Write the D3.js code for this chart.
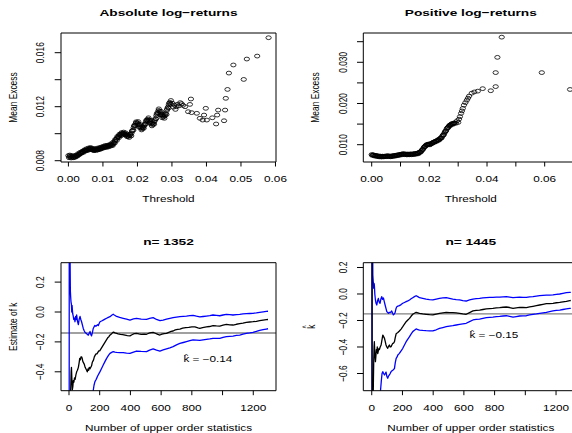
<!DOCTYPE html>
<html><head><meta charset="utf-8">
<script src="https://cdn.jsdelivr.net/npm/d3@7"></script>
<style>html,body{margin:0;padding:0;background:#fff;} svg{display:block;}</style>
</head><body>
<svg id="c" width="572" height="433"></svg>
<script>
// ---------------- DATA ----------------
// Top-left: Absolute log-returns, mean excess [threshold, mean excess]
const absMeanExcess = [
[0.0000,.00838],[0.0003,.00830],[0.0006,.00834],[0.0009,.00826],[0.0012,.00830],[0.0015,.00824],[0.0018,.00828],[0.0021,.00832],
[0.0024,.00836],[0.0027,.00842],[0.0030,.00846],[0.0033,.00852],[0.0036,.00856],[0.0039,.00862],[0.0042,.00866],[0.0045,.00872],
[0.0048,.00876],[0.0051,.00880],[0.0054,.00878],[0.0057,.00884],[0.0060,.00888],[0.0063,.00892],[0.0066,.00888],[0.0069,.00884],
[0.0072,.00880],[0.0075,.00878],[0.0078,.00882],[0.0081,.00884],[0.0084,.00880],[0.0087,.00886],[0.0090,.00890],[0.0093,.00888],
[0.0096,.00894],[0.0099,.00898],[0.0102,.00900],[0.0105,.00904],[0.0108,.00902],[0.0111,.00906],[0.0114,.00910],[0.0117,.00908],
[0.0120,.00914],[0.0123,.00918],[0.0126,.00916],[0.0129,.00924],[0.0132,.00932],[0.0135,.00946],[0.0138,.00958],[0.0141,.00968],
[0.0144,.00976],[0.0147,.00986],[0.0150,.00992],[0.0153,.00998],[0.0156,.01002],[0.0159,.01004],[0.0162,.01000],[0.0165,.00996],
[0.0168,.00990],[0.0171,.00984],[0.0174,.00980],[0.0177,.00986],[0.0180,.00994],[0.0183,.01006],[0.0186,.01024],[0.0189,.01044],
[0.0192,.01062],[0.0195,.01076],[0.0198,.01082],[0.0201,.01078],[0.0204,.01066],[0.0207,.01054],[0.0210,.01044],[0.0213,.01036],
[0.0216,.01044],[0.0219,.01058],[0.0222,.01074],[0.0225,.01090],[0.0228,.01102],[0.0231,.01108],[0.0234,.01100],[0.0237,.01088],
[0.0240,.01076],[0.0243,.01068],[0.0246,.01072],[0.0249,.01090],[0.0252,.01112],[0.0255,.01134],[0.0258,.01156],[0.0261,.01172],
[0.0264,.01168],[0.0267,.01154],[0.0270,.01140],[0.0273,.01130],[0.0276,.01126],[0.0279,.01132],[0.0282,.01150],[0.0285,.01172],
[0.0288,.01196],[0.0291,.01214],[0.0294,.01232],[0.0297,.01246],
[0.0002,.00822],[0.0008,.00820],[0.0014,.00822],[0.0020,.00826],[0.0026,.00834],[0.0032,.00846],[0.0038,.00856],[0.0044,.00862],
[0.0050,.00872],[0.0056,.00876],[0.0062,.00882],[0.0068,.00880],[0.0074,.00874],[0.0080,.00876],[0.0086,.00880],[0.0092,.00884],
[0.0098,.00890],[0.0104,.00896],[0.0110,.00898],[0.0116,.00902],[0.0122,.00908],[0.0128,.00912],[0.0134,.00930],[0.0140,.00950],
[0.0146,.00970],[0.0152,.00984],[0.0158,.00994],[0.0164,.00990],[0.0170,.00978],[0.0176,.00972],[0.0182,.00984],[0.0188,.01026],
[0.0194,.01060],[0.0200,.01068],[0.0206,.01046],[0.0212,.01028],[0.0218,.01040],[0.0224,.01070],[0.0230,.01094],[0.0236,.01078],
[0.0242,.01058],[0.0248,.01070],[0.0254,.01110],[0.0260,.01150],[0.0266,.01140],[0.0272,.01118],[0.0278,.01114],[0.0284,.01142],
[0.0290,.01190],[0.0296,.01220],
[0.0004,.00842],[0.0010,.00838],[0.0016,.00836],[0.0022,.00842],[0.0028,.00852],[0.0034,.00862],[0.0040,.00870],[0.0046,.00880],
[0.0052,.00888],[0.0058,.00894],[0.0064,.00898],[0.0070,.00892],[0.0076,.00888],[0.0082,.00892],[0.0088,.00896],[0.0094,.00900],
[0.0100,.00906],[0.0106,.00912],[0.0112,.00914],[0.0118,.00918],[0.0124,.00926],[0.0130,.00938],[0.0136,.00958],[0.0142,.00980],
[0.0148,.00996],[0.0154,.01008],[0.0160,.01012],[0.0166,.01006],[0.0172,.00994],[0.0178,.00996],[0.0184,.01020],[0.0190,.01058],
[0.0196,.01088],[0.0202,.01090],[0.0208,.01068],[0.0214,.01050],[0.0220,.01068],[0.0226,.01100],[0.0232,.01118],[0.0238,.01100],
[0.0244,.01080],[0.0250,.01100],[0.0256,.01146],[0.0262,.01184],[0.0268,.01166],[0.0274,.01142],[0.0280,.01142],[0.0286,.01182],
[0.0292,.01226],
[0.0301,.01226],[0.0304,.01196],[0.0307,.01212],[0.0310,.01180],[0.0313,.01200],[0.0316,.01218],[0.0320,.01206],[0.0324,.01230],
[0.0328,.01222],[0.0332,.01210],
[0.0338,.01200],[0.0347,.01163],[0.0352,.01217],[0.0355,.01257],[0.0357,.01156],[0.0372,.01151],[0.0381,.01114],[0.0389,.01101],
[0.0393,.01138],[0.0398,.01188],[0.0401,.01101],[0.0417,.01118],[0.0428,.01072],[0.0431,.01138],[0.0434,.01175],[0.0451,.01096],
[0.0454,.01175],[0.0456,.01262],[0.0461,.01328],[0.0465,.01449],[0.0478,.01509],[0.0508,.01402],[0.0517,.01553],[0.0547,.01575],
[0.0580,.01711]
];

// Top-right: Positive log-returns, mean excess
const posMeanExcess = [
[0.0000,.00760],[0.0004,.00752],[0.0008,.00744],[0.0012,.00738],[0.0016,.00730],[0.0020,.00724],[0.0024,.00720],[0.0028,.00716],
[0.0032,.00712],[0.0036,.00714],[0.0040,.00716],[0.0044,.00712],[0.0048,.00718],[0.0052,.00722],[0.0056,.00726],[0.0060,.00720],
[0.0064,.00716],[0.0068,.00720],[0.0072,.00726],[0.0076,.00730],[0.0080,.00734],[0.0084,.00740],[0.0088,.00746],[0.0092,.00750],
[0.0096,.00756],[0.0100,.00762],[0.0104,.00770],[0.0108,.00776],[0.0112,.00772],[0.0116,.00768],[0.0120,.00764],[0.0124,.00766],
[0.0128,.00762],[0.0132,.00766],[0.0136,.00770],[0.0140,.00768],[0.0144,.00772],[0.0148,.00776],[0.0152,.00780],[0.0156,.00786],
[0.0160,.00792],[0.0164,.00804],[0.0168,.00822],[0.0172,.00846],[0.0176,.00880],[0.0180,.00920],[0.0184,.00956],[0.0188,.00984],
[0.0192,.01000],[0.0196,.01010],[0.0200,.01008],[0.0204,.01016],[0.0208,.01032],[0.0212,.01050],[0.0216,.01064],[0.0220,.01074],
[0.0224,.01090],[0.0228,.01104],[0.0232,.01120],[0.0236,.01140],[0.0240,.01164],[0.0244,.01196],[0.0248,.01236],[0.0252,.01280],
[0.0256,.01330],[0.0260,.01380],[0.0264,.01420],[0.0268,.01452],[0.0272,.01478],[0.0276,.01500],[0.0280,.01510],[0.0284,.01516],
[0.0288,.01530],
[0.0002,.00740],[0.0010,.00724],[0.0018,.00712],[0.0026,.00704],[0.0034,.00700],[0.0042,.00704],[0.0050,.00708],[0.0058,.00710],
[0.0066,.00706],[0.0074,.00714],[0.0082,.00722],[0.0090,.00734],[0.0098,.00744],[0.0106,.00756],[0.0114,.00758],[0.0122,.00752],
[0.0130,.00754],[0.0138,.00756],[0.0146,.00760],[0.0154,.00768],[0.0162,.00780],[0.0170,.00820],[0.0178,.00890],[0.0186,.00960],
[0.0194,.00992],[0.0202,.00996],[0.0210,.01030],[0.0218,.01058],[0.0226,.01084],[0.0234,.01112],[0.0242,.01160],[0.0250,.01240],
[0.0258,.01336],[0.0266,.01420],[0.0274,.01470],[0.0282,.01496],
[0.0006,.00752],[0.0014,.00740],[0.0022,.00730],[0.0030,.00724],[0.0038,.00722],[0.0046,.00724],[0.0054,.00732],[0.0062,.00728],
[0.0070,.00728],[0.0078,.00738],[0.0086,.00748],[0.0094,.00758],[0.0102,.00770],[0.0110,.00782],[0.0118,.00776],[0.0126,.00774],
[0.0134,.00776],[0.0142,.00778],[0.0150,.00786],[0.0158,.00796],[0.0166,.00820],[0.0174,.00868],[0.0182,.00944],[0.0190,.00998],
[0.0198,.01018],[0.0206,.01030],[0.0214,.01062],[0.0222,.01088],[0.0230,.01118],[0.0238,.01156],[0.0246,.01222],[0.0254,.01310],
[0.0262,.01404],[0.0270,.01470],[0.0278,.01508],[0.0286,.01528],
[0.0292,.0152],[0.0296,.0158],[0.0300,.0154],[0.0303,.0162],[0.0306,.0168],[0.0310,.0176],[0.0313,.0182],[0.0316,.0188],
[0.0320,.0196],[0.0325,.0202],[0.0330,.0208],[0.0334,.0213],[0.0338,.0218],[0.0347,.0225],[0.0356,.0228],[0.0368,.0230],
[0.0385,.0236],[0.0413,.0231],[0.0430,.0241],[0.0430,.0275],[0.0436,.0312],[0.0451,.0361],[0.0590,.0275],[0.0688,.0234]
];

// Bottom-left (n = 1352): shape estimate and confidence bounds [order statistics, k]
const est1352 = [
[2,-1.2],[8,-0.70],[11,-0.52],[14,-0.40],[16,-0.37],[19,-0.45],[22,-0.52],[25,-0.50],[28,-0.46],[32,-0.47],[36,-0.44],[40,-0.45],
[45,-0.42],[50,-0.40],[55,-0.39],[61,-0.37],[66,-0.34],[70,-0.31],[74,-0.32],[78,-0.30],[82,-0.30],[86,-0.31],[90,-0.33],[95,-0.34],
[100,-0.35],[105,-0.37],[110,-0.38],[115,-0.39],[119,-0.40],[124,-0.38],[128,-0.39],[132,-0.37],[137,-0.38],[142,-0.37],[147,-0.36],
[151,-0.34],[155,-0.33],[160,-0.32],[165,-0.30],[170,-0.29],[176,-0.28],[182,-0.28],[188,-0.27],[194,-0.26],[200,-0.26],[206,-0.25],
[212,-0.24],[218,-0.23],[224,-0.22],[230,-0.21],[236,-0.20],[242,-0.19],[248,-0.18],[254,-0.17],[260,-0.165],[266,-0.155],[272,-0.15],
[278,-0.145],[284,-0.138],[290,-0.135],[300,-0.14],[310,-0.143],[320,-0.146],[335,-0.15],[350,-0.152],[365,-0.155],[380,-0.158],
[397,-0.16],[410,-0.152],[425,-0.145],[440,-0.143],[455,-0.147],[470,-0.15],[490,-0.148],[505,-0.149],[520,-0.142],[535,-0.138],
[548,-0.136],[562,-0.142],[578,-0.15],[592,-0.154],[605,-0.148],[620,-0.144],[635,-0.143],[650,-0.136],[665,-0.13],[678,-0.127],
[692,-0.12],[708,-0.116],[722,-0.114],[740,-0.108],[760,-0.105],[780,-0.103],[800,-0.099],[820,-0.1],[840,-0.106],[852,-0.109],
[870,-0.104],[895,-0.1],[915,-0.097],[938,-0.091],[960,-0.093],[982,-0.094],[1003,-0.088],[1025,-0.083],[1047,-0.086],[1068,-0.087],
[1090,-0.082],[1112,-0.078],[1133,-0.074],[1155,-0.069],[1177,-0.067],[1198,-0.065],[1220,-0.062],[1242,-0.058],[1264,-0.054],
[1285,-0.051],[1296,-0.05]
];
const upper1352 = [
[1,-3.0],[2,3.0],[5,0.6],[8,0.25],[9,0.14],[11,0.10],[13,0.07],[16,0.05],[18,0.0],[20,0.045],[24,-0.01],[28,-0.03],[31,-0.05],
[35,-0.04],[39,-0.065],[43,-0.03],[47,-0.05],[50,-0.02],[55,-0.06],[61,-0.085],[66,-0.05],[72,-0.03],[77,-0.05],[82,-0.065],
[88,-0.09],[93,-0.11],[99,-0.125],[104,-0.135],[110,-0.14],[115,-0.145],[121,-0.15],[126,-0.155],[132,-0.14],[137,-0.13],[142,-0.15],
[147,-0.16],[152,-0.14],[158,-0.11],[163,-0.1],[169,-0.09],[175,-0.095],[180,-0.09],[186,-0.085],[191,-0.09],[197,-0.075],[202,-0.065],
[212,-0.06],[223,-0.054],[234,-0.048],[245,-0.042],[256,-0.036],[267,-0.031],[278,-0.022],[288,-0.015],[295,-0.02],[310,-0.03],
[330,-0.036],[353,-0.042],[375,-0.048],[397,-0.054],[420,-0.046],[440,-0.042],[470,-0.047],[505,-0.049],[525,-0.043],[548,-0.038],
[570,-0.05],[592,-0.058],[613,-0.054],[635,-0.048],[657,-0.042],[678,-0.038],[700,-0.034],[722,-0.031],[744,-0.029],[765,-0.027],
[787,-0.024],[808,-0.022],[830,-0.028],[852,-0.033],[873,-0.03],[895,-0.027],[917,-0.024],[938,-0.02],[960,-0.022],[982,-0.025],
[1003,-0.02],[1025,-0.016],[1047,-0.018],[1068,-0.02],[1090,-0.018],[1112,-0.016],[1133,-0.013],[1155,-0.011],[1177,-0.01],
[1198,-0.009],[1220,-0.006],[1242,-0.002],[1264,0.001],[1285,0.004],[1296,0.005]
];
const lower1352 = [
[2,-3.0],[100,-1.0],[150,-0.6],[158,-0.525],[163,-0.49],[169,-0.466],[175,-0.455],[180,-0.444],[186,-0.43],[191,-0.42],[202,-0.399],
[212,-0.378],[223,-0.355],[234,-0.332],[245,-0.31],[256,-0.292],[267,-0.277],[278,-0.27],[288,-0.265],[299,-0.268],[310,-0.27],
[330,-0.272],[353,-0.272],[375,-0.275],[397,-0.277],[420,-0.268],[440,-0.261],[470,-0.264],[505,-0.265],[525,-0.255],[548,-0.247],
[570,-0.255],[592,-0.261],[613,-0.254],[635,-0.247],[657,-0.24],[678,-0.232],[700,-0.22],[722,-0.21],[744,-0.204],[765,-0.198],
[787,-0.192],[808,-0.187],[830,-0.188],[852,-0.19],[873,-0.186],[895,-0.183],[917,-0.18],[938,-0.176],[960,-0.177],[982,-0.176],
[1003,-0.17],[1025,-0.165],[1047,-0.163],[1068,-0.161],[1090,-0.157],[1112,-0.154],[1133,-0.148],[1155,-0.143],[1177,-0.14],
[1198,-0.136],[1220,-0.13],[1242,-0.123],[1264,-0.118],[1285,-0.114],[1296,-0.112]
];

// Bottom-right (n = 1445)
const est1445 = [
[1,3.0],[3,-2.0],[8,-0.9],[11,-0.64],[13,-0.5],[15,-0.4],[17,-0.36],[20,-0.45],[24,-0.51],[27,-0.47],[30,-0.42],[33,-0.44],[36,-0.40],
[39,-0.45],[43,-0.43],[47,-0.41],[50,-0.42],[55,-0.40],[61,-0.385],[66,-0.35],[72,-0.31],[77,-0.32],[83,-0.335],[88,-0.36],[93,-0.385],
[98,-0.4],[104,-0.41],[109,-0.395],[115,-0.385],[120,-0.4],[126,-0.397],[131,-0.385],[137,-0.372],[142,-0.37],[148,-0.36],[153,-0.33],
[159,-0.3],[165,-0.295],[170,-0.29],[180,-0.279],[191,-0.265],[202,-0.247],[213,-0.228],[224,-0.209],[235,-0.196],[246,-0.184],
[256,-0.168],[267,-0.153],[278,-0.145],[289,-0.138],[300,-0.142],[311,-0.146],[332,-0.15],[354,-0.153],[376,-0.156],[398,-0.158],
[420,-0.152],[441,-0.146],[463,-0.142],[485,-0.138],[506,-0.14],[528,-0.141],[550,-0.143],[572,-0.146],[593,-0.15],[615,-0.153],
[637,-0.14],[659,-0.128],[680,-0.124],[702,-0.121],[724,-0.117],[746,-0.113],[768,-0.11],[789,-0.108],[811,-0.105],[833,-0.103],
[855,-0.1],[876,-0.098],[898,-0.102],[920,-0.108],[941,-0.104],[963,-0.101],[985,-0.102],[1007,-0.103],[1028,-0.098],[1050,-0.093],
[1072,-0.088],[1093,-0.083],[1115,-0.078],[1137,-0.073],[1158,-0.072],[1180,-0.07],[1202,-0.066],[1224,-0.063],[1245,-0.059],
[1267,-0.055],[1290,-0.05],[1296,-0.049]
];
const upper1445 = [
[1,-3],[2,3],[5,0.6],[7,0.143],[10,0.09],[13,0.043],[15,0.08],[17,0.068],[20,0.0],[24,-0.045],[28,-0.07],[33,-0.083],[38,-0.05],
[43,-0.033],[48,-0.06],[54,-0.07],[59,-0.04],[65,-0.02],[70,-0.04],[76,-0.03],[82,-0.06],[87,-0.083],[93,-0.11],[98,-0.133],
[104,-0.14],[109,-0.146],[115,-0.138],[120,-0.14],[126,-0.135],[130,-0.128],[136,-0.145],[141,-0.158],[147,-0.15],[152,-0.14],
[158,-0.11],[163,-0.096],[170,-0.092],[180,-0.088],[191,-0.08],[202,-0.07],[213,-0.064],[224,-0.058],[235,-0.052],[246,-0.045],
[256,-0.036],[267,-0.028],[278,-0.02],[289,-0.013],[300,-0.02],[311,-0.028],[332,-0.033],[354,-0.038],[376,-0.042],[398,-0.045],
[420,-0.038],[441,-0.033],[463,-0.03],[485,-0.028],[506,-0.033],[528,-0.038],[550,-0.042],[572,-0.045],[593,-0.05],[615,-0.053],
[637,-0.045],[659,-0.038],[680,-0.035],[702,-0.033],[724,-0.03],[746,-0.028],[768,-0.026],[789,-0.025],[811,-0.024],[833,-0.023],
[855,-0.021],[876,-0.02],[898,-0.024],[920,-0.028],[941,-0.026],[963,-0.024],[985,-0.025],[1007,-0.026],[1028,-0.022],[1050,-0.02],
[1072,-0.016],[1093,-0.013],[1115,-0.01],[1137,-0.008],[1158,-0.008],[1180,-0.007],[1202,-0.003],[1224,0.0],[1245,0.005],
[1267,0.01],[1290,0.013],[1296,0.013]
];
const lower1445 = [
[2,-3],[50,-0.9],[57,-0.73],[62,-0.66],[67,-0.6],[72,-0.586],[77,-0.6],[83,-0.611],[88,-0.6],[93,-0.59],[98,-0.62],[104,-0.636],
[109,-0.62],[115,-0.611],[120,-0.6],[126,-0.586],[131,-0.58],[137,-0.575],[142,-0.57],[148,-0.561],[153,-0.52],[159,-0.486],
[165,-0.475],[170,-0.46],[180,-0.448],[191,-0.43],[202,-0.41],[213,-0.385],[224,-0.36],[235,-0.34],[246,-0.322],[256,-0.303],
[267,-0.284],[278,-0.274],[289,-0.264],[300,-0.268],[311,-0.272],[332,-0.275],[354,-0.277],[376,-0.278],[398,-0.279],[420,-0.27],
[441,-0.259],[463,-0.253],[485,-0.247],[506,-0.243],[528,-0.239],[550,-0.234],[572,-0.229],[593,-0.225],[615,-0.221],[637,-0.208],
[659,-0.196],[680,-0.192],[702,-0.189],[724,-0.184],[746,-0.179],[768,-0.176],[789,-0.174],[811,-0.171],[833,-0.169],[855,-0.166],
[876,-0.164],[898,-0.169],[920,-0.174],[941,-0.17],[963,-0.166],[985,-0.165],[1007,-0.164],[1028,-0.158],[1050,-0.153],[1072,-0.15],
[1093,-0.146],[1115,-0.142],[1137,-0.138],[1158,-0.133],[1180,-0.128],[1202,-0.124],[1224,-0.121],[1245,-0.117],[1267,-0.113],
[1290,-0.109],[1296,-0.108]
];

// overall shape estimates (horizontal reference lines) and annotation anchors
const shapeHat = [-0.14, -0.15];
const shapeNote = [[745, -0.336], [636, -0.334]];
const shapeNoteText = [" = \u22120.14", " = \u22120.15"];

// tick values and labels
const absXTicks = [0, 0.01, 0.02, 0.03, 0.04, 0.05, 0.06];
const absXLabels = ["0.00","0.01","0.02","0.03","0.04","0.05","0.06"];
const absYTicks = [0.008, 0.010, 0.012, 0.014, 0.016];
const absYLabels = ["0.008", "", "0.012", "", "0.016"];
const posXTicks = [0, 0.01, 0.02, 0.03, 0.04, 0.05, 0.06, 0.07];
const posXLabels = ["0.00", "", "0.02", "", "0.04", "", "0.06", ""];
const posYTicks = [0.010, 0.015, 0.020, 0.025, 0.030, 0.035];
const posYLabels = ["0.010", "", "0.020", "", "0.030", ""];
const nTicks = [0, 200, 400, 600, 800, 1000, 1200];
const nLabels = ["0", "200", "400", "600", "800", "", "1200"];
const k1Ticks = [0.2, 0.0, -0.2, -0.4];
const k1Labels = ["0.2", "0.0", "\u22120.2", "\u22120.4"];
const k2Ticks = [0.2, 0.0, -0.2, -0.4, -0.6];
const k2Labels = ["0.2", "0.0", "\u22120.2", "\u22120.4", "\u22120.6"];

// ---------------- DRAWING ----------------
const S = 1.4;          // the reference is stretched horizontally
const W = 572, H = 433;
const FONT = "'Liberation Sans', Arial, Helvetica, sans-serif";
const FS = 8.4, FT = 9.8, TICK = 4.5;
const svg = d3.select('#c').attr('viewBox', `0 0 ${W / S} ${H}`).attr('preserveAspectRatio', 'none');
svg.append('rect').attr('x', 0).attr('y', 0).attr('width', W / S).attr('height', H).attr('fill', '#fff');
const defs = svg.append('defs');
let clipN = 0;

function txt(g, x, y, s, opt = {}) {
  const t = g.append('text').attr('x', x).attr('y', y).text(s)
    .attr('font-family', FONT).attr('font-size', opt.size || FS)
    .attr('text-anchor', opt.anchor || 'middle').attr('fill', '#000');
  if (opt.bold) t.attr('font-weight', 'bold');
  return t;
}
function rtxt(g, cx, cy, s, opt = {}) {
  const gg = g.append('g').attr('transform', `translate(${cx},${cy}) rotate(-90)`);
  txt(gg, 0, 0, s, opt);
  return gg;
}
// "k" with a hat, followed by optional text, as one text element
function hatText(g, x, y, rest, anchor) {
  const t = g.append('text').attr('x', x).attr('y', y)
    .attr('font-family', FONT).attr('font-size', FS).attr('fill', '#000')
    .attr('text-anchor', anchor);
  t.append('tspan').text('k');
  t.append('tspan').attr('dx', -3.6).attr('dy', -4.3).attr('font-size', 6).text('^');
  t.append('tspan').attr('dx', 0.8).attr('dy', 4.3).text(rest);
  return t;
}

function panel(o) {
  const [l, r, t, b] = o.box; // real px
  const g = svg.append('g');
  const x = d3.scaleLinear().domain(o.xDomain).range([l / S, r / S]);
  const y = d3.scaleLinear().domain(o.yDomain).range([b, t]);
  const id = 'clip' + (clipN++);
  defs.append('clipPath').attr('id', id).append('rect')
    .attr('x', l / S).attr('y', t).attr('width', (r - l) / S).attr('height', b - t);
  const plot = g.append('g').attr('clip-path', `url(#${id})`);
  o.draw(plot, x, y);
  g.append('rect').attr('x', l / S).attr('y', t).attr('width', (r - l) / S).attr('height', b - t)
    .attr('fill', 'none').attr('stroke', '#000').attr('stroke-width', 1).attr('vector-effect', 'non-scaling-stroke');
  o.xTicks.forEach((v, i) => {
    g.append('line').attr('x1', x(v)).attr('x2', x(v)).attr('y1', b).attr('y2', b + TICK)
      .attr('stroke', '#000').attr('stroke-width', 1).attr('vector-effect', 'non-scaling-stroke');
    if (o.xLabels[i]) txt(g, x(v), o.xLabY, o.xLabels[i]);
  });
  o.yTicks.forEach((v, i) => {
    g.append('line').attr('x1', l / S).attr('x2', l / S - TICK).attr('y1', y(v)).attr('y2', y(v))
      .attr('stroke', '#000').attr('stroke-width', 1).attr('vector-effect', 'non-scaling-stroke');
    if (o.yLabels[i]) rtxt(g, (l - 21) / S + 3, y(v), o.yLabels[i]);
  });
  const cx = (l + r) / 2 / S;
  txt(g, cx, o.titleY, o.title, { bold: true, size: FT });
  txt(g, cx, o.xTitleY, o.xTitle);
  if (o.yTitle) rtxt(g, (l - 48.5) / S + 3, (t + b) / 2, o.yTitle);
  return { g, x, y };
}

function pointsDraw(data) {
  return (p, x, y) => {
    p.selectAll('circle').data(data).enter().append('circle')
      .attr('cx', d => x(d[0])).attr('cy', d => y(d[1])).attr('r', 1.9)
      .attr('fill', 'none').attr('stroke', '#000').attr('stroke-width', 0.8)
      .attr('vector-effect', 'non-scaling-stroke');
  };
}
function shapeDraw(est, up, lo, hat) {
  return (p, x, y) => {
    const line = d3.line().x(d => x(d[0])).y(d => y(d[1]));
    p.append('line').attr('x1', x.range()[0]).attr('x2', x.range()[1]).attr('y1', y(hat)).attr('y2', y(hat))
      .attr('stroke', '#808080').attr('stroke-width', 1.4).attr('vector-effect', 'non-scaling-stroke');
    [[up, '#0000ff'], [lo, '#0000ff'], [est, '#000']].forEach(([d, c]) => {
      p.append('path').attr('d', line(d)).attr('fill', 'none').attr('stroke', c)
        .attr('stroke-width', 1.3).attr('stroke-linejoin', 'round').attr('vector-effect', 'non-scaling-stroke');
    });
  };
}

// Top-left
panel({ box: [61, 276, 33, 162], xDomain: [-0.00215, 0.06015], yDomain: [0.007904, 0.017459],
  xTicks: absXTicks, xLabels: absXLabels, yTicks: absYTicks, yLabels: absYLabels,
  title: 'Absolute log\u2212returns', titleY: 16.5, xTitle: 'Threshold', xTitleY: 202.3, xLabY: 182,
  yTitle: 'Mean Excess', draw: pointsDraw(absMeanExcess) });
// Top-right
panel({ box: [363.3, 578.3, 33, 162], xDomain: [-0.00291, 0.07166], yDomain: [0.0058, 0.03711],
  xTicks: posXTicks, xLabels: posXLabels, yTicks: posYTicks, yLabels: posYLabels,
  title: 'Positive log\u2212returns', titleY: 16.5, xTitle: 'Threshold', xTitleY: 202.3, xLabY: 182,
  yTitle: 'Mean Excess', draw: pointsDraw(posMeanExcess) });
// Bottom-left
const bl = panel({ box: [61, 276, 262.7, 390.7], xDomain: [-52, 1348], yDomain: [-0.5264, 0.3298],
  xTicks: nTicks, xLabels: nLabels, yTicks: k1Ticks, yLabels: k1Labels,
  title: 'n= 1352', titleY: 245.2, xTitle: 'Number of upper order statistics', xTitleY: 430.7, xLabY: 410.7,
  yTitle: 'Estimate of k', draw: shapeDraw(est1352, upper1352, lower1352, shapeHat[0]) });
hatText(bl.g, bl.x(shapeNote[0][0]), bl.y(shapeNote[0][1]), shapeNoteText[0], 'start');
// Bottom-right
const br = panel({ box: [363.3, 578.3, 262.7, 390.7], xDomain: [-55, 1345], yDomain: [-0.7298, 0.2362],
  xTicks: nTicks, xLabels: nLabels, yTicks: k2Ticks, yLabels: k2Labels,
  title: 'n= 1445', titleY: 245.2, xTitle: 'Number of upper order statistics', xTitleY: 430.7, xLabY: 410.7,
  yTitle: null, draw: shapeDraw(est1445, upper1445, lower1445, shapeHat[1]) });
hatText(br.g, br.x(shapeNote[1][0]), br.y(shapeNote[1][1]), shapeNoteText[1], 'start');
{
  const gg = br.g.append('g').attr('transform', `translate(${311 / S + 3},${326.7}) rotate(-90)`);
  hatText(gg, -2.1, 0, '', 'start');
}
</script>
</body></html>
